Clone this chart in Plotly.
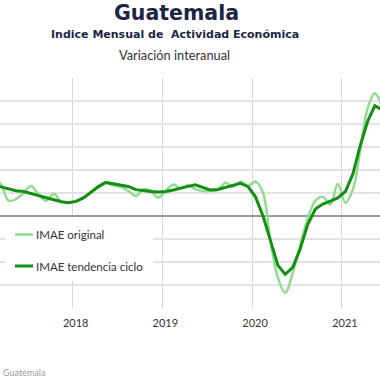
import plotly.graph_objects as go
import pandas as pd

# Monthly observations Jan 2017 .. Jun 2021 (plotted mid-month)
dates = [d.strftime("%Y-%m-15") for d in pd.date_range("2017-01-01", periods=54, freq="MS")]

imae_original = [
    4.0, 4.8, 4.1, 2.0, 2.2, 3.0, 3.9, 2.8, 2.0, 2.9, 1.9, 1.75,   # 2017
    1.95, 2.4, 3.1, 3.9, 4.3, 4.0, 3.8, 3.3, 2.6, 3.5, 3.3, 2.4,   # 2018
    3.3, 4.1, 3.6, 4.0, 3.5, 3.25, 3.3, 3.4, 4.35, 3.8, 4.5, 3.9,  # 2019
    4.5, 3.0, -3.0, -8.0, -10.0, -7.4, -3.8, -0.3, 2.0, 2.5, 1.5, 4.2,  # 2020
    1.7, 3.5, 8.2, 14.0, 16.0, 14.0,                                # 2021
]
imae_tendencia = [
    4.0, 3.95, 3.8, 3.5, 3.3, 3.2, 2.95, 2.65, 2.35, 2.1, 1.85, 1.72,
    1.9, 2.4, 3.1, 3.8, 4.38, 4.2, 4.0, 3.85, 3.44, 3.3, 3.2, 3.14,
    3.2, 3.4, 3.65, 3.86, 4.08, 3.7, 3.4, 3.45, 3.7, 4.0, 4.25, 3.86,
    2.5, 0.0, -3.1, -6.4, -7.6, -6.7, -4.3, -1.1, 0.9, 1.55, 1.93, 2.35,
    3.2, 5.5, 9.0, 12.3, 14.4, 13.8,
]
series_names = ["IMAE original", "IMAE tendencia ciclo"]
series_colors = ["#90dc90", "#138f13"]
year_ticks = ["2018-01-01", "2019-01-01", "2020-01-01", "2021-01-01"]
year_labels = ["2018", "2019", "2020", "2021"]

W, H = 380, 380
T, B = 78, 72
PH = H - T - B  # plot height in px


def py(pix):
    """paper y for a pixel row"""
    return (H - B - pix) / PH


def px(pix):
    return pix / W


fig = go.Figure()
fig.add_trace(go.Scatter(
    x=dates, y=imae_original, mode="lines", name=series_names[0],
    line=dict(color=series_colors[0], width=2.5, shape="spline", smoothing=1.0),
    showlegend=False,
))
fig.add_trace(go.Scatter(
    x=dates, y=imae_tendencia, mode="lines", name=series_names[1],
    line=dict(color=series_colors[1], width=3),
    showlegend=False,
))

shapes = [
    # legend background box
    dict(type="rect", xref="paper", yref="paper", x0=px(5), x1=px(153), y0=py(281), y1=py(218),
         fillcolor="white", line=dict(width=0), layer="above"),
    dict(type="line", xref="paper", yref="paper", x0=px(15), x1=px(33), y0=py(234.5), y1=py(234.5),
         line=dict(color=series_colors[0], width=2.5), layer="above"),
    dict(type="line", xref="paper", yref="paper", x0=px(15), x1=px(33), y0=py(266), y1=py(266),
         line=dict(color=series_colors[1], width=3), layer="above"),
]

annotations = [
    dict(text="<b>Guatemala</b>", x=px(176), y=py(13.5), xanchor="center", yanchor="middle",
         font=dict(family="DejaVu Sans, sans-serif", size=20.5, color="#1c2541")),
    dict(text="<b>Indice Mensual de  Actividad Económica</b>", x=px(175), y=py(34),
         xanchor="center", yanchor="middle",
         font=dict(family="DejaVu Sans, sans-serif", size=11, color="#1c2541")),
    dict(text="Variación interanual", x=px(174), y=py(55), xanchor="center", yanchor="middle",
         font=dict(family="Lato, sans-serif", size=12.8, color="#333333")),
    dict(text=series_names[0], x=px(34), y=py(234.5), xanchor="left", yanchor="middle",
         font=dict(family="Lato, sans-serif", size=11.5, color="#333333")),
    dict(text=series_names[1], x=px(34), y=py(266), xanchor="left", yanchor="middle",
         font=dict(family="Lato, sans-serif", size=11.5, color="#333333")),
    dict(text="Guatemala", x=px(1), y=py(372), xanchor="left", yanchor="middle",
         font=dict(family="Lato, sans-serif", size=9, color="#9a9a9a")),
]
for a in annotations:
    a.update(xref="paper", yref="paper", showarrow=False)

fig.update_layout(
    width=W, height=H,
    margin=dict(l=0, r=0, t=T, b=B, autoexpand=False),
    paper_bgcolor="white", plot_bgcolor="white",
    font=dict(family="Lato, sans-serif", color="#333333"),
    showlegend=False,
    shapes=shapes,
    annotations=annotations,
    xaxis=dict(
        type="date",
        range=["2017-03-11", "2021-06-05"],
        tickvals=year_ticks, ticktext=year_labels,
        showgrid=True, gridcolor="#d6d6d6", gridwidth=1,
        ticks="", showline=False, zeroline=False, automargin=False,
        tickfont=dict(family="Lato, sans-serif", size=11, color="#333333"),
        ticklabelshift=3, ticklabelstandoff=7,
    ),
    yaxis=dict(
        range=[-12, 18], dtick=3, tick0=0,
        showgrid=True, gridcolor="#e3e3e3", gridwidth=1.5,
        zeroline=True, zerolinecolor="#9a9a9a", zerolinewidth=2,
        showticklabels=False, ticks="", showline=False, automargin=False,
    ),
)

fig.write_html("out.html", config={"displayModeBar": False},
               post_script="document.body.style.margin='0';")
